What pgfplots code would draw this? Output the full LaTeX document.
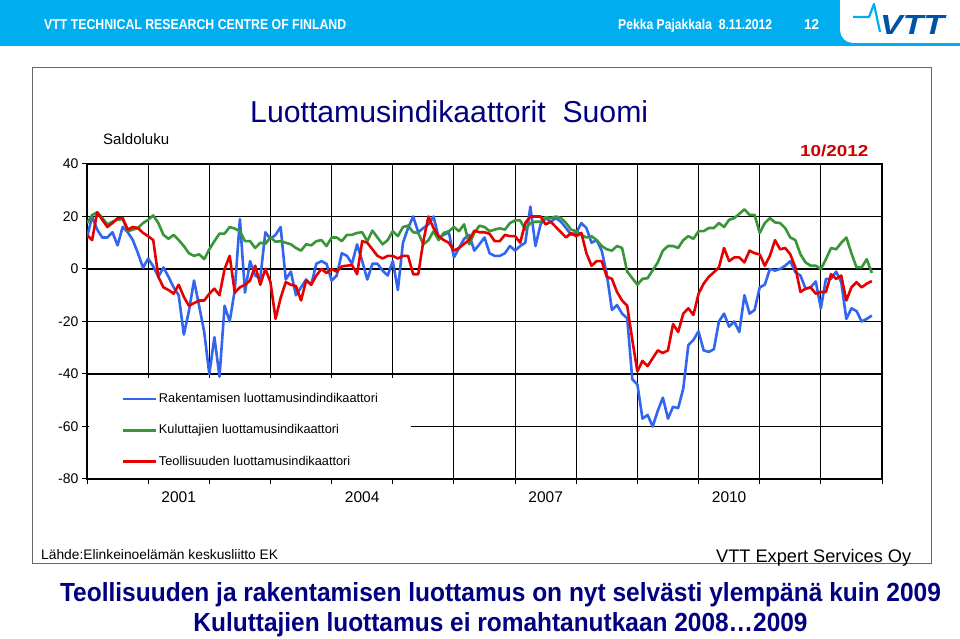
\documentclass[border=0pt]{standalone}
\usepackage{pgfplots}
\pgfplotsset{compat=1.18}
\usepackage{pgfplotstable}
\usepackage{fontspec}
\setmainfont{Liberation Sans}

\definecolor{vttcyan}{RGB}{0,174,239}
\definecolor{vttdark}{RGB}{0,84,166}
\definecolor{navytxt}{RGB}{0,0,128}
\definecolor{redtxt}{RGB}{204,0,0}
\definecolor{sblue}{RGB}{51,102,238}
\definecolor{sgreen}{RGB}{56,150,56}
\definecolor{sred}{RGB}{230,0,0}

\pgfplotstableread{
m rak kul teo
0 12 17.5 13
1 20 20.5 11
2 15 21.6 21.6
3 12 19.4 18.75
4 12 17 16
5 14 18 17.5
6 9 18.75 19.4
7 16 19 19.4
8 14 14.4 15
9 11 15 16
10 6 15.6 15.6
11 0.5 17.5 13.75
12 4 18.75 12.5
13 1 20.4 11
14 -3 17.5 -3
15 0.6 13 -7
16 -3 11.5 -8
17 -7 13 -9.4
18 -10 11 -6
19 -25 8.75 -10.6
20 -16 6 -14
21 -4.4 5 -13
22 -14 5.6 -12
23 -24 3.75 -12
24 -40 7.5 -9.4
25 -26 10.6 -7.5
26 -41 13.5 -10
27 -14 13.5 0
28 -20 16 5
29 -8 15.4 -9
30 19 14.4 -7
31 -9 10.6 -6
32 3 10.6 -4.4
33 -2.5 8 1.25
34 -3.5 10 -6
35 14 9.6 0
36 11.5 12 -5
37 13 10.4 -19
38 16 10.6 -11
39 -4 10 -5
40 -1 9.4 -6
41 -10 8 -6.5
42 -7 7 -12
43 -4 9.4 -4.4
44 -6 9 -6
45 2 10.6 -2.5
46 3 11 0
47 2 8.75 -1.5
48 -4.4 12 0
49 -2.5 12 -1
50 6 10.6 1
51 5 13 1.25
52 2 13 1.5
53 9.4 13.75 -2
54 3 14 10.6
55 -4 10.6 10
56 2 14.6 7.5
57 2 12 5
58 -0.6 9.4 4
59 -2.5 11 5
60 3 14.4 5
61 -8 12.5 4
62 10 16 5
63 15.6 16.5 5
64 20 14 -2
65 14 13.75 -2
66 15.6 9.4 10.6
67 17 11 20
68 20 14.4 15.6
69 12 11 12.5
70 13 13.75 11
71 14 14.4 10
72 4.4 16 7
73 8 14.4 8
74 11.5 17 9.6
75 13 9.4 11
76 7 13.75 14.6
77 9.4 16.5 14
78 12 16 14
79 6 14.4 13.4
80 5 15 10.6
81 5 15.5 10.6
82 6 15 13
83 8.75 17.5 12.5
84 7 18.5 12.5
85 8.75 18.5 10
86 10 15 17.5
87 23.75 17.5 20
88 8.75 18 20
89 17 18 20
90 19.4 19.75 17
91 18 19.4 18
92 19.4 20 16
93 18 19.4 14
94 15.6 17.5 12
95 13 15 13.75
96 13.75 14.4 12.5
97 17.5 13 13.75
98 15.6 12 6
99 10 12.5 1.25
100 11 11 3
101 7 8.75 3
102 -2 7.5 -3
103 -15.6 7 -3.75
104 -13.75 8.75 -8.75
105 -17 8 -12
106 -18.75 -1 -14
107 -42 -3.5 -27
108 -44 -6 -39
109 -57 -3.75 -35
110 -55.6 -3.5 -37
111 -60 -0.5 -34
112 -54 2.5 -31
113 -49 7 -32
114 -57 8.75 -31
115 -52.5 8.75 -21
116 -53 8 -24
117 -45.6 11 -17
118 -29 12.5 -15
119 -27 11.5 -17.5
120 -23.75 14.4 -9.4
121 -31 14.4 -5.6
122 -31.6 15.6 -3
123 -30.6 15.6 -1.25
124 -20 17.5 0.6
125 -17 16 8
126 -22 18.75 3
127 -20 19.4 4.4
128 -24 21 4.4
129 -10 22.75 2.5
130 -17 20.6 7
131 -15.6 20.6 6
132 -7 13.75 5.6
133 -6 17.5 1.25
134 0 19.4 5
135 -0.6 17.75 11
136 0 17.5 7.5
137 1.25 15.6 8
138 3 12 5.6
139 -1.25 11 0.6
140 -2.5 5.6 -8.75
141 -7.5 2.5 -7.5
142 -7 1.25 -7
143 -4.75 1.25 -9.4
144 -15 0 -8.75
145 -3.75 3.75 -8.75
146 -3.75 8 -2
147 -1 7.5 -3.75
148 -5 10 -2.5
149 -19 12 -12
150 -15 6 -7
151 -16 0.6 -5
152 -20 0.6 -7
153 -19 3.75 -5.6
154 -17.75 -1.5 -4.6
}\datatable

\begin{document}
\begin{tikzpicture}
\path[use as bounding box] (0pt,0pt) rectangle (960pt,639pt);
\fill[white] (0pt,0pt) rectangle (960pt,639pt);
% header bar
\fill[vttcyan] (0pt,593pt) rectangle (960pt,639pt);
\fill[white] (960pt,639pt) -- (840pt,639pt) -- (840pt,609pt) arc[start angle=180,end angle=270,radius=13pt] -- (960pt,596pt) -- cycle;
\draw[vttcyan, line width=2.2pt, line join=round] (853pt,622pt) -- (869pt,622pt) -- (874pt,635pt) -- (880pt,607pt);
\node[anchor=base west, inner sep=0pt, text=vttdark] at (880pt,604pt) {\resizebox{64pt}{19pt}{\bfseries\itshape VTT}};
\node[anchor=base west, inner sep=0pt, text=white] at (44pt,609pt) {\resizebox{302pt}{10pt}{\bfseries VTT TECHNICAL RESEARCH CENTRE OF FINLAND}};
\node[anchor=base west, inner sep=0pt, text=white] at (618pt,609pt) {\resizebox{154pt}{10.3pt}{\bfseries Pekka Pajakkala\ \ 8.11.2012}};
\node[anchor=base west, inner sep=0pt, text=white] at (804pt,609pt) {\resizebox{15pt}{10pt}{\bfseries 12}};
% frame
\draw[black!60, line width=1pt] (32pt,75pt) rectangle (931pt,571pt);
% titles
\node[anchor=base west, inner sep=0pt, text=navytxt] at (250pt,516pt) {\resizebox{398pt}{!}{Luottamusindikaattorit\ \ Suomi}};
\node[anchor=base west, inner sep=0pt] at (103pt,494pt) {\resizebox{66pt}{!}{Saldoluku}};
\node[anchor=base west, inner sep=0pt, text=redtxt] at (800pt,482pt) {\resizebox{68pt}{11.5pt}{\bfseries 10/2012}};
% source lines
\node[anchor=base west, inner sep=0pt] at (41pt,79pt) {\resizebox{237pt}{!}{Lähde:Elinkeinoelämän\ keskusliitto EK}};
\node[anchor=base west, inner sep=0pt] at (716pt,76pt) {\resizebox{195pt}{!}{VTT Expert Services Oy}};
% bottom bold lines
\node[anchor=base, inner sep=0pt, text=navytxt] at (500.5pt,37pt) {\resizebox{881pt}{19pt}{\bfseries Teollisuuden ja rakentamisen luottamus on nyt selvästi ylempänä kuin 2009}};
\node[anchor=base, inner sep=0pt, text=navytxt] at (500.5pt,8pt) {\resizebox{614pt}{19pt}{\bfseries Kuluttajien luottamus ei romahtanutkaan 2008…2009}};

\begin{axis}[
  at={(87pt,160pt)}, anchor=south west,
  scale only axis, width=795pt, height=315pt,
  xmin=0, xmax=156, ymin=-80, ymax=40,
  xtick={0,12,...,156}, xticklabels={},
  ytick={-80,-60,...,40},
  grid=major, major grid style={black, line width=1.1pt},
  axis line style={black, line width=1.1pt},
  tick style={black, line width=1pt}, tick align=outside, major tick length=5pt,
  tick pos=left,
  extra x ticks={18,54,90,126},
  extra x tick labels={2001,2004,2007,2010},
  extra x tick style={grid=none, major tick length=0pt, xticklabel style={yshift=-9pt}},
  /pgf/number format/assume math mode=true,
  yticklabel style={font=\fontsize{14}{16}\selectfont},
  xticklabel style={font=\fontsize{15.5}{17}\selectfont},
  legend style={at={(axis cs:6.8,-46.5)}, anchor=north west, draw=none, fill=none,
    inner sep=0pt, font=\fontsize{12.75}{14}\selectfont, row sep=16.2pt,
    nodes={inner sep=1.5pt, text height=9.5pt, text depth=2.7pt}},
  legend cell align=left,
  legend image code/.code={\draw[#1] (0pt,0pt) -- (33pt,0pt);},
]
\addplot[sblue, line width=2.6pt, line join=round] table[x=m,y=rak]{\datatable};
\addlegendentry{Rakentamisen luottamusindindikaattori}
\addplot[sgreen, line width=2.6pt, line join=round] table[x=m,y=kul]{\datatable};
\addlegendentry{Kuluttajien luottamusindikaattori}
\addplot[sred, line width=2.6pt, line join=round] table[x=m,y=teo]{\datatable};
\addlegendentry{Teollisuuden luottamusindikaattori}
\fill[white] (axis cs:0.3,-41.6) rectangle (axis cs:63.6,-79.6);
\end{axis}
\end{tikzpicture}
\end{document}
